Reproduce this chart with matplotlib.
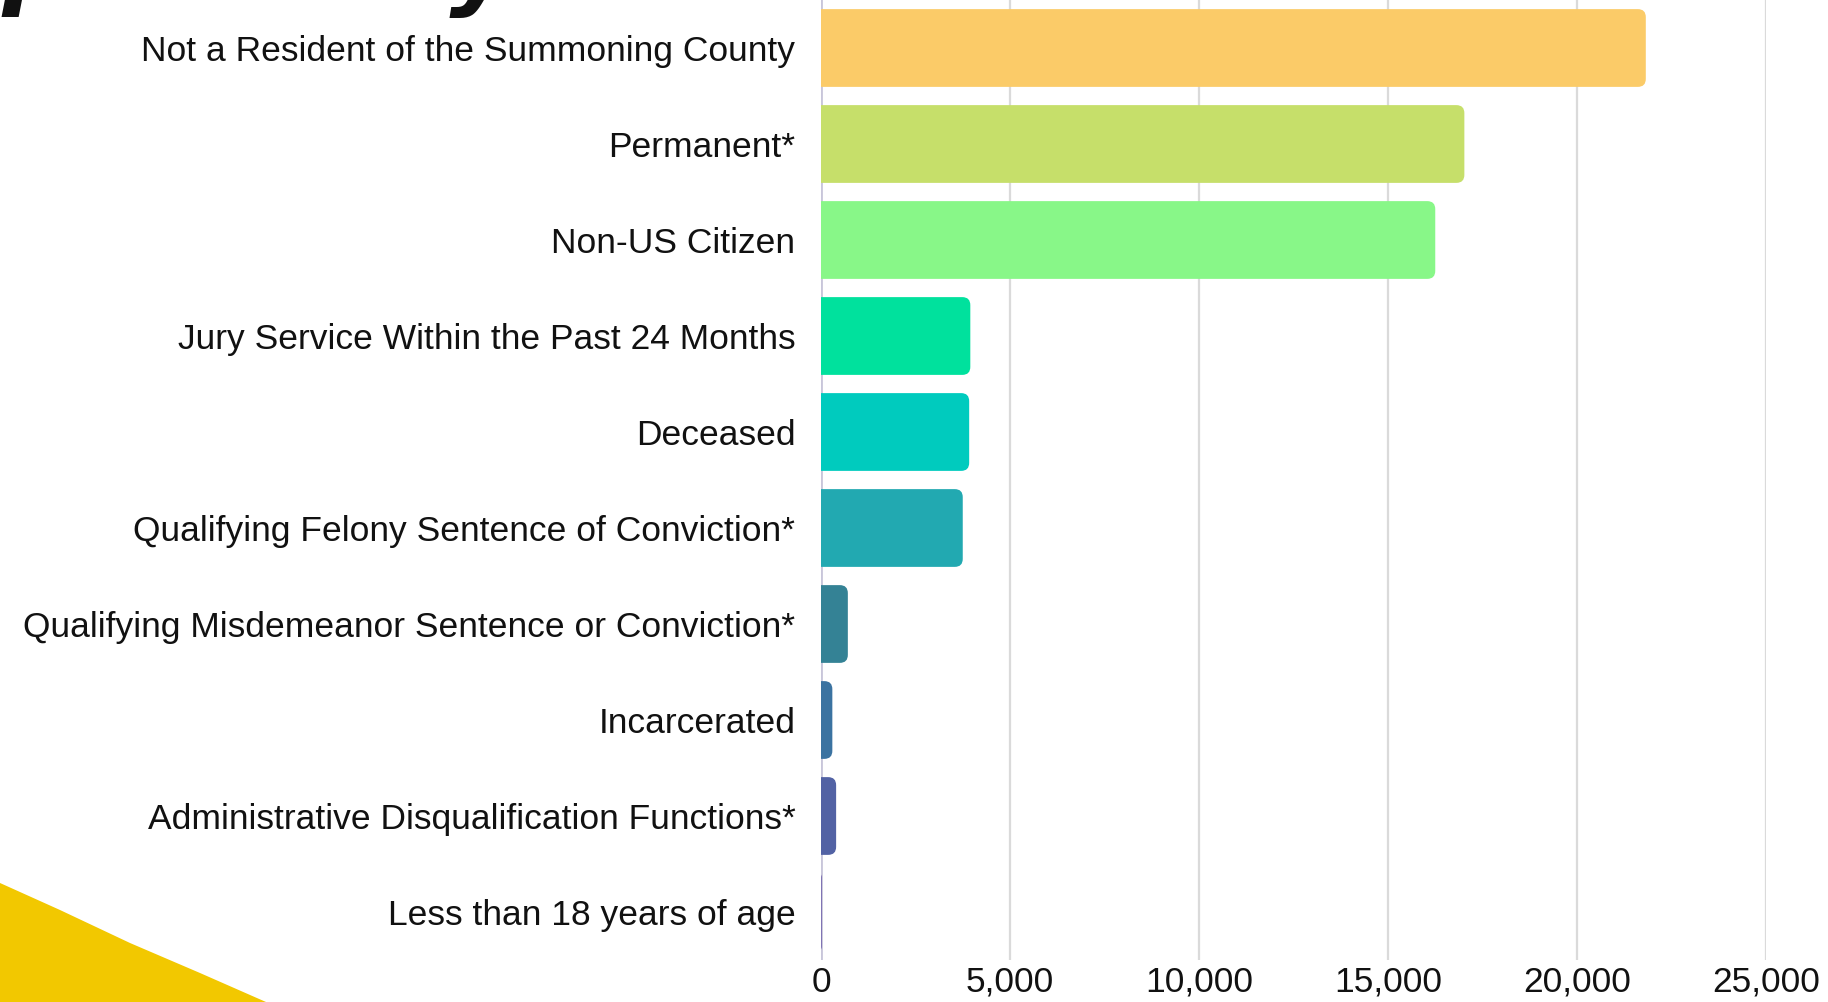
import matplotlib.pyplot as plt
from matplotlib.patches import FancyBboxPatch, Polygon
from matplotlib.ticker import FuncFormatter

# data
categories = [
    "Not a Resident of the Summoning County",
    "Permanent*",
    "Non-US Citizen",
    "Jury Service Within the Past 24 Months",
    "Deceased",
    "Qualifying Felony Sentence of Conviction*",
    "Qualifying Misdemeanor Sentence or Conviction*",
    "Incarcerated",
    "Administrative Disqualification Functions*",
    "Less than 18 years of age",
]
counts = [21820, 17020, 16250, 3950, 3920, 3750, 710, 300, 400, 20]
bar_colors = [
    "#FBCB68", "#C6DF6A", "#88F788", "#00E19D", "#00CBBE",
    "#22A9B1", "#348295", "#3B73A1", "#5262A4", "#6A5AA8",
]
x_ticks = [0, 5000, 10000, 15000, 20000, 25000]

plt.rcParams["font.family"] = ["Liberation Sans", "DejaVu Sans"]

fig = plt.figure(figsize=(18.28, 10.02), dpi=100)
ax = fig.add_axes([821 / 1828, 42 / 1002, (1766 - 821) / 1828, 960 / 1002])

n = len(categories)
ypos = list(range(n))
bar_h = 0.81

# rounded right ends: radius in data units for x and y
r_x = 210
r_y = 0.083
for yi, v, col in zip(ypos, counts, bar_colors):
    w = v + r_x
    rs = min(r_x, w / 2)
    p = FancyBboxPatch(
        (-r_x, yi - bar_h / 2), w, bar_h,
        boxstyle=f"round,pad=0,rounding_size={rs}",
        mutation_aspect=r_y / r_x,
        facecolor=col, edgecolor="none", zorder=3,
    )
    ax.add_patch(p)

ax.set_xlim(0, 25000)
ax.set_ylim(n - 0.5, -0.5)
ax.set_yticks(ypos)
ax.set_yticklabels(categories, fontsize=25.5, color="#111111")
ax.set_xticks(x_ticks)
ax.xaxis.set_major_formatter(FuncFormatter(lambda v, _: f"{int(v):,}"))
ax.tick_params(axis="x", labelsize=25.5, colors="#111111", length=0, pad=4)
ax.tick_params(axis="y", length=0, pad=18.5)
ax.grid(axis="x", color="#DADADA", linewidth=1.6, zorder=0)
ax.set_axisbelow(True)
for s in ax.spines.values():
    s.set_visible(False)
ax.axvline(0, color="#C8C6DA", linewidth=2, zorder=2)

# title sits mostly above the visible canvas, only descenders show
fig.text(-0.161, 1.0 + 3 / 1002, "Exemptions by Reason", fontsize=70,
         fontweight="bold", fontstyle="italic", family="DejaVu Sans",
         va="baseline", ha="left", color="#111111")

# yellow corner decoration
corner = Polygon(
    [(0, 119 / 1002), (60 / 1828, 92 / 1002), (130 / 1828, 59 / 1002),
     (200 / 1828, 29 / 1002), (266 / 1828, 0), (0, 0)],
    closed=True, transform=fig.transFigure, facecolor="#F2C800",
    edgecolor="none", zorder=5,
)
fig.patches.append(corner)

fig.savefig("out.png", dpi=100)
